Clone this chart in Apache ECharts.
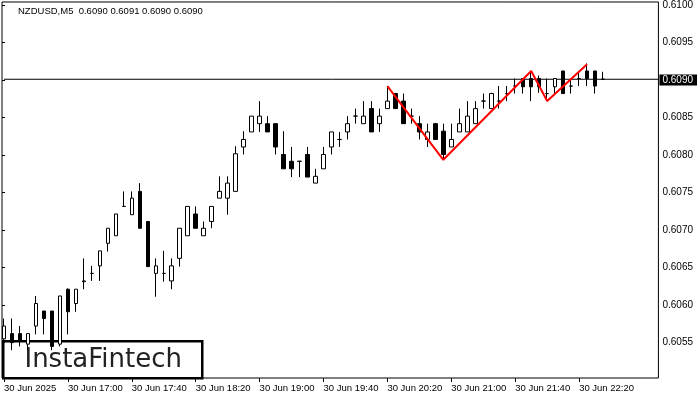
<!DOCTYPE html>
<html>
<head>
<meta charset="utf-8">
<script src="https://cdn.jsdelivr.net/npm/echarts@6/dist/echarts.min.js"></script>
<style>html,body{margin:0;padding:0;background:#fff;}#c{width:700px;height:400px;}</style>
</head>
<body>
<div id="c"></div>
<script>
// 5-minute bars, 30 Jun 2025
const categories = [
 '16:20','16:25','16:30','16:35','16:40','16:45','16:50','16:55',
 '17:00','17:05','17:10','17:15','17:20','17:25','17:30','17:35',
 '17:40','17:45','17:50','17:55','18:00','18:05','18:10','18:15',
 '18:20','18:25','18:30','18:35','18:40','18:45','18:50','18:55',
 '19:00','19:05','19:10','19:15','19:20','19:25','19:30','19:35',
 '19:40','19:45','19:50','19:55','20:00','20:05','20:10','20:15',
 '20:20','20:25','20:30','20:35','20:40','20:45','20:50','20:55',
 '21:00','21:05','21:10','21:15','21:20','21:25','21:30','21:35',
 '21:40','21:45','21:50','21:55','22:00','22:05','22:10','22:15',
 '22:20','22:25','22:30','22:35',
 '22:40','22:45','22:50','22:55','23:00','23:05','23:10'
];
const opens  = [0.60555,0.60562,0.60562,0.60548,0.60572,0.60592,0.60592,0.60548,
 0.60621,0.60602,0.60631,0.60642,0.60652,0.60682,0.60692,0.60731,
 0.60720,0.60751,0.60711,0.60642,0.60642,0.60632,0.60662,0.60692,
 0.60721,0.60692,0.60711,0.60742,0.60742,0.60751,0.60810,0.60830,
 0.60841,0.60841,0.60841,0.60800,0.60791,0.60791,0.60800,0.60762,
 0.60781,0.60810,0.60820,0.60830,0.60851,0.60841,0.60861,0.60841,
 0.60861,0.60881,0.60871,0.60851,0.60841,0.60820,0.60841,0.60831,
 0.60810,0.60830,0.60830,0.60841,0.60871,0.60861,0.60871,0.60881,
 0.60891,0.60901,0.60901,0.60901,0.60881,0.60890,0.60911,0.60891,
 0.60901,0.60911,0.60911,0.60900];
const closes = [0.60572,0.60550,0.60552,0.60562,0.60602,0.60582,0.60545,0.60612,
 0.60591,0.60621,0.60632,0.60642,0.60672,0.60702,0.60721,0.60731,
 0.60742,0.60702,0.60651,0.60652,0.60642,0.60652,0.60702,0.60731,
 0.60702,0.60702,0.60731,0.60751,0.60762,0.60801,0.60820,0.60851,
 0.60851,0.60830,0.60810,0.60781,0.60781,0.60791,0.60770,0.60771,
 0.60800,0.60830,0.60820,0.60841,0.60851,0.60851,0.60830,0.60851,
 0.60871,0.60861,0.60841,0.60851,0.60830,0.60830,0.60820,0.60800,
 0.60820,0.60841,0.60851,0.60861,0.60871,0.60881,0.60871,0.60881,
 0.60891,0.60890,0.60890,0.60890,0.60881,0.60901,0.60881,0.60891,
 0.60901,0.60901,0.60891,0.60900];
const lows   = [0.60540,0.60540,0.60545,0.60540,0.60561,0.60561,0.60540,0.60545,
 0.60561,0.60591,0.60621,0.60632,0.60632,0.60671,0.60692,0.60731,
 0.60720,0.60702,0.60651,0.60611,0.60631,0.60621,0.60651,0.60692,
 0.60702,0.60692,0.60702,0.60742,0.60720,0.60751,0.60800,0.60830,
 0.60830,0.60830,0.60800,0.60781,0.60770,0.60770,0.60770,0.60762,
 0.60781,0.60800,0.60810,0.60820,0.60841,0.60841,0.60830,0.60830,
 0.60861,0.60861,0.60841,0.60841,0.60820,0.60810,0.60820,0.60793,
 0.60810,0.60830,0.60830,0.60841,0.60861,0.60861,0.60861,0.60871,
 0.60881,0.60881,0.60871,0.60882,0.60871,0.60881,0.60881,0.60881,
 0.60891,0.60891,0.60881,0.60900];
const highs  = [0.60582,0.60582,0.60572,0.60562,0.60612,0.60592,0.60592,0.60612,
 0.60622,0.60621,0.60662,0.60652,0.60672,0.60702,0.60721,0.60751,
 0.60751,0.60762,0.60711,0.60662,0.60672,0.60662,0.60702,0.60731,
 0.60731,0.60711,0.60731,0.60771,0.60771,0.60811,0.60831,0.60851,
 0.60871,0.60851,0.60841,0.60831,0.60810,0.60791,0.60810,0.60781,
 0.60810,0.60830,0.60830,0.60851,0.60861,0.60871,0.60871,0.60861,
 0.60891,0.60882,0.60881,0.60861,0.60851,0.60841,0.60842,0.60841,
 0.60841,0.60861,0.60871,0.60871,0.60881,0.60882,0.60891,0.60891,
 0.60901,0.60901,0.60911,0.60905,0.60901,0.60901,0.60911,0.60901,
 0.60911,0.60921,0.60911,0.60910];
const lastPrice = 0.6090;
// red pattern line vertices
const patternTimes  = ['20:20','20:55','21:50','22:00','22:25'];
const patternPrices = [0.60891,0.60793,0.60911,0.60871,0.60920];
// axis labels
const yTicks = [0.6055,0.6060,0.6065,0.6070,0.6075,0.6080,0.6085,0.6090,0.6095,0.6100];
const xTickAt = ['16:20','17:00','17:40','18:20','19:00','19:40','20:20','21:00','21:40','22:20'];
const xTickLabels = ['30 Jun 2025','30 Jun 17:00','30 Jun 17:40','30 Jun 18:20','30 Jun 19:00',
 '30 Jun 19:40','30 Jun 20:20','30 Jun 21:00','30 Jun 21:40','30 Jun 22:20'];
const titleText = 'NZDUSD,M5  0.6090 0.6091 0.6090 0.6090';
const logoText = 'InstaFintech';

const ohlc = opens.map((o, i) => [o, closes[i], lows[i], highs[i]]);
const pattern = patternTimes.map((t, k) => [t, patternPrices[k]]);
const priceLine = [[categories[0], lastPrice], [categories[categories.length - 1], lastPrice]];
const FONT = 'Liberation Sans';
const yMin = 0.60503, yMax = 0.61004;

const chart = echarts.init(document.getElementById('c'), null, {renderer: 'canvas'});
chart.setOption({
  animation: false,
  backgroundColor: '#fff',
  title: {
    text: titleText, left: 18, top: 6, padding: 0,
    textStyle: {fontFamily: FONT, fontSize: 9.5, fontWeight: 'normal', color: '#000'}
  },
  grid: [
    {left: -1, top: 1, width: 664, bottom: 22},
    {left: 2, top: 1, right: 40, bottom: 22, show: true, borderColor: '#000', borderWidth: 1, backgroundColor: 'transparent'}
  ],
  xAxis: [
    {
      type: 'category', gridIndex: 0, data: categories, boundaryGap: true,
      axisLine: {show: false},
      axisTick: {show: true, alignWithLabel: true, length: 4, lineStyle: {color: '#000'},
        interval: (i, v) => xTickAt.indexOf(v) >= 0},
      axisLabel: {
        interval: (i, v) => xTickAt.indexOf(v) >= 0,
        formatter: (v) => { const k = xTickAt.indexOf(v); return k >= 0 ? xTickLabels[k] : ''; },
        align: 'left', margin: 5, fontFamily: FONT, fontSize: 9.5, color: '#000'
      },
      splitLine: {show: false}
    },
    {type: 'value', gridIndex: 1, show: false, min: 0, max: 1}
  ],
  yAxis: [
    {type: 'value', gridIndex: 0, min: yMin, max: yMax, show: false, splitLine: {show: false}},
    {
      type: 'value', gridIndex: 1, min: yMin, max: yMax, position: 'right',
      axisLine: {show: false},
      splitLine: {show: false},
      axisTick: {show: true, length: 3, lineStyle: {color: '#000'}, customValues: yTicks},
      axisLabel: {
        customValues: yTicks, margin: 1,
        formatter: (v) => Math.abs(v - lastPrice) < 1e-7 ? '{cur|' + v.toFixed(4) + '}' : '{n|' + v.toFixed(4) + '}',
        rich: {
          n: {fontFamily: FONT, fontSize: 10, color: '#000', padding: [0, 0, 0, 3]},
          cur: {fontFamily: FONT, fontSize: 10, color: '#fff', backgroundColor: '#000', padding: [1, 4, 0, 3]}
        }
      }
    }
  ],
  series: [
    {
      type: 'line', xAxisIndex: 0, yAxisIndex: 0, data: priceLine, symbol: 'none',
      lineStyle: {color: '#000', width: 1}, z: 1, silent: true
    },
    {
      type: 'candlestick', xAxisIndex: 0, yAxisIndex: 0, data: ohlc, barWidth: 4, z: 2,
      itemStyle: {color: '#fff', color0: '#000', borderColor: '#000', borderColor0: '#000', borderColorDoji: '#000', borderWidth: 1},
      emphasis: {disabled: true}
    },
    {
      type: 'line', xAxisIndex: 0, yAxisIndex: 0, data: pattern, symbol: 'none',
      lineStyle: {color: '#ff0000', width: 2}, z: 5, silent: true
    }
  ],
  graphic: [
    {
      type: 'group', left: 2, top: 340, z: 100,
      children: [
        {type: 'rect', shape: {x: 0, y: 0, width: 199, height: 37}, style: {fill: '#fff', stroke: '#000', lineWidth: 2.5}},
        {type: 'text', x: 100, y: 19, style: {text: logoText, fill: '#222', font: '26px "DejaVu Sans"', textAlign: 'center', textVerticalAlign: 'middle'}}
      ]
    }
  ]
});
</script>
</body>
</html>
